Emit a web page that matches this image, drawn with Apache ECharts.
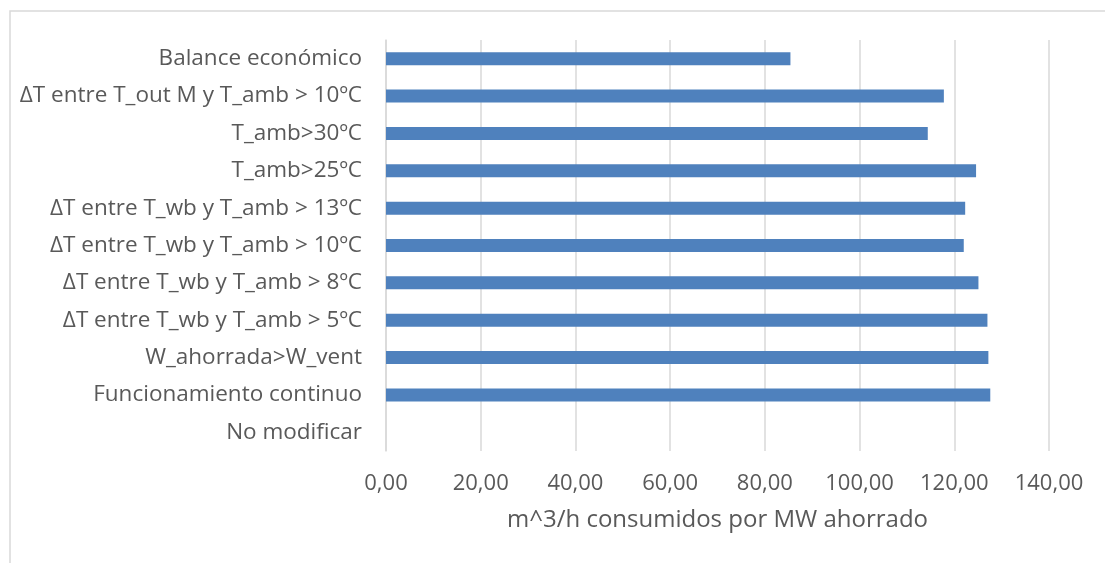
<!DOCTYPE html>
<html>
<head>
<meta charset="utf-8">
<script src="https://cdn.jsdelivr.net/npm/echarts@6/dist/echarts.min.js"></script>
<style>
  html, body { margin: 0; padding: 0; background: #ffffff; }
  #chart { width: 1105px; height: 563px; }
</style>
</head>
<body>
<div id="chart"></div>
<script>
// Strategies, bottom to top as drawn on the category axis
const categories = [
  'No modificar',
  'Funcionamiento continuo',
  'W_ahorrada>W_vent',
  'ΔT entre T_wb y T_amb > 5ºC',
  'ΔT entre T_wb y T_amb > 8ºC',
  'ΔT entre T_wb y T_amb > 10ºC',
  'ΔT entre T_wb y T_amb > 13ºC',
  'T_amb>25ºC',
  'T_amb>30ºC',
  'ΔT entre T_out M y T_amb > 10ºC',
  'Balance económico'
];

// Water consumed per MW saved (m^3/h per MW)
const consumption = [0, 127.6, 127.2, 127.0, 125.1, 122.0, 122.3, 124.6, 114.4, 117.8, 85.4];

const xTicks = { min: 0, max: 140, interval: 20 };
const xAxisTitle = 'm^3/h consumidos por MW ahorrado';

const FONT = '"Open Sans", sans-serif';
const TEXT = '#595959';
const GRID = '#d9d9d9';

const chart = echarts.init(document.getElementById('chart'), null, { renderer: 'canvas' });
chart.setOption({
  animation: false,
  backgroundColor: '#ffffff',
  textStyle: { fontFamily: FONT },
  graphic: [{
    type: 'rect',
    shape: { x: 10, y: 11, width: 1120, height: 600 },
    style: { fill: 'none', stroke: GRID, lineWidth: 1.5 },
    silent: true,
    z: -1
  }],
  grid: { left: 386, right: 56, top: 40, bottom: 112, containLabel: false },
  xAxis: {
    type: 'value',
    min: xTicks.min,
    max: xTicks.max,
    interval: xTicks.interval,
    axisLine: { show: false },
    axisTick: { show: false },
    splitLine: { show: true, lineStyle: { color: GRID, width: 1.5 } },
    axisLabel: {
      color: TEXT,
      fontSize: 22,
      margin: 22,
      formatter: v => v.toFixed(2).replace('.', ',')
    },
    name: xAxisTitle,
    nameLocation: 'middle',
    nameGap: 57,
    nameTextStyle: { color: TEXT, fontSize: 24 }
  },
  yAxis: {
    type: 'category',
    data: categories,
    axisLine: { show: true, lineStyle: { color: GRID, width: 1.5 } },
    axisTick: { show: false },
    axisLabel: { color: TEXT, fontSize: 22.5, margin: 24 }
  },
  series: [{
    type: 'bar',
    data: consumption,
    barWidth: 13,
    itemStyle: { color: '#4f81bd' }
  }]
});
</script>
</body>
</html>
